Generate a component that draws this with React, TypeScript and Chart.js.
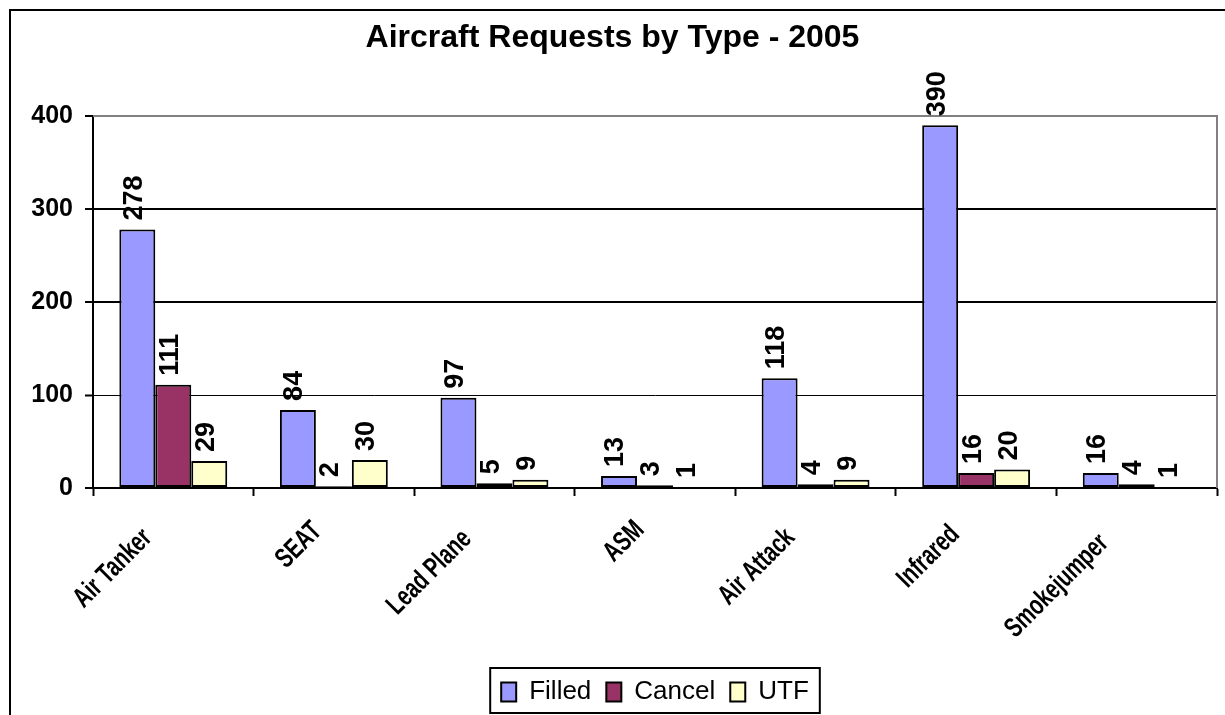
import React, { useEffect, useRef } from "react";
import { Chart, registerables } from "chart.js";

Chart.register(...registerables);

const categories = ["Air Tanker", "SEAT", "Lead Plane", "ASM", "Air Attack", "Infrared", "Smokejumper"];
const filled = [278, 84, 97, 13, 118, 390, 16];
const cancel = [111, 2, 5, 3, 4, 16, 4];
const utf = [29, 30, 9, 1, 9, 20, 1];
const seriesNames = ["Filled", "Cancel", "UTF"];
const yTicks = [0, 100, 200, 300, 400];
const titleText = "Aircraft Requests by Type - 2005";

const FONT = "'Liberation Sans', Arial, Helvetica, sans-serif";

const decorPlugin = {
  id: "decor",
  beforeDraw(chart: any) {
    const ctx = chart.ctx;
    ctx.save();
    ctx.fillStyle = "#ffffff";
    ctx.fillRect(0, 0, chart.width, chart.height);
    ctx.restore();
  },
  beforeDatasetsDraw(chart: any) {
    const ctx = chart.ctx;
    const a = chart.chartArea;
    ctx.save();
    ctx.strokeStyle = "#808080";
    ctx.lineWidth = 2;
    ctx.beginPath();
    ctx.moveTo(a.left, a.top);
    ctx.lineTo(a.right, a.top);
    ctx.lineTo(a.right, a.bottom);
    ctx.stroke();
    ctx.restore();
  },
  afterDatasetsDraw(chart: any) {
    const ctx = chart.ctx;
    ctx.save();
    ctx.fillStyle = "#000";
    ctx.font = `bold 27px ${FONT}`;
    ctx.textAlign = "left";
    ctx.textBaseline = "middle";
    chart.data.datasets.forEach((ds: any, di: number) => {
      const meta = chart.getDatasetMeta(di);
      meta.data.forEach((el: any, i: number) => {
        const v = ds.data[i];
        ctx.save();
        ctx.translate(el.x - 3, el.y - 9);
        ctx.rotate(-Math.PI / 2);
        ctx.fillText(String(v), 0, 0);
        ctx.restore();
      });
    });
    ctx.restore();
  },
  afterDraw(chart: any) {
    const ctx = chart.ctx;
    const xs = chart.scales.x;
    const a = chart.chartArea;
    ctx.save();
    // category labels
    ctx.fillStyle = "#000";
    ctx.font = `bold 28px ${FONT}`;
    ctx.textAlign = "right";
    ctx.textBaseline = "middle";
    const sx = 0.72;
    categories.forEach((lab, i) => {
      const cx = xs.getPixelForValue(i);
      const L = ctx.measureText(lab).width * sx;
      const ex = cx - 6 - 0.2 * L;
      const ey = a.bottom + 31 + 0.15 * L;
      ctx.save();
      ctx.translate(ex, ey);
      ctx.rotate(-Math.PI / 4);
      ctx.scale(sx, 1);
      ctx.fillText(lab, 0, 0);
      ctx.restore();
    });
    // legend frame
    const lg = chart.legend;
    if (lg && lg.legendHitBoxes && lg.legendHitBoxes.length) {
      const hb = lg.legendHitBoxes;
      const last = hb[hb.length - 1];
      const l = hb[0].left - 11;
      const r = last.left + last.width + 11;
      const t = lg.top + 4;
      const b = lg.bottom - 2;
      ctx.strokeStyle = "#000";
      ctx.lineWidth = 2;
      ctx.strokeRect(l, t, r - l, b - t);
    }
    // outer frame
    ctx.strokeStyle = "#000";
    ctx.lineWidth = 2;
    ctx.strokeRect(10, 10, 1400, 1000);
    ctx.restore();
  },
};

export default function App() {
  const ref = useRef<HTMLCanvasElement | null>(null);

  useEffect(() => {
    const canvas = ref.current;
    if (!canvas) return;
    const chart = new Chart(canvas, {
      type: "bar",
      data: {
        labels: categories,
        datasets: [
          { label: seriesNames[0], data: filled, backgroundColor: "#9999FF", borderColor: "#000", borderWidth: 2, borderSkipped: false },
          { label: seriesNames[1], data: cancel, backgroundColor: "#993366", borderColor: "#000", borderWidth: 2, borderSkipped: false },
          { label: seriesNames[2], data: utf, backgroundColor: "#FFFFCC", borderColor: "#000", borderWidth: 2, borderSkipped: false },
        ],
      },
      options: {
        animation: false,
        responsive: false,
        devicePixelRatio: 1,
        layout: { padding: { left: 8, right: 8, top: 0, bottom: 0 } },
        datasets: { bar: { barPercentage: 1, categoryPercentage: 0.672 } },
        plugins: {
          title: {
            display: true,
            text: titleText,
            color: "#000",
            font: { family: FONT, size: 32, weight: "bold" },
            padding: { top: 19, bottom: 58.6 },
          },
          legend: {
            display: true,
            position: "bottom",
            fullSize: false,
            labels: {
              color: "#000",
              font: { family: FONT, size: 26 },
              boxWidth: 15,
              boxHeight: 19,
              padding: 15,
            },
          },
          tooltip: { enabled: false },
        },
        scales: {
          x: {
            type: "category",
            offset: true,
            grid: {
              display: true,
              offset: true,
              drawOnChartArea: false,
              drawTicks: true,
              tickLength: 8,
              tickColor: "#000",
              tickWidth: 2,
            },
            border: { display: true, color: "#000", width: 2 },
            ticks: { display: false },
            afterFit: (scale: any) => {
              scale.height = 176;
            },
          },
          y: {
            min: 0,
            max: 400,
            afterBuildTicks: (scale: any) => {
              scale.ticks = yTicks.map((v) => ({ value: v }));
            },
            grid: {
              color: (c: any) => (c.tick && c.tick.value === 400 ? "#808080" : "#000"),
              lineWidth: (c: any) => (c.tick && c.tick.value === 100 ? 1 : 2),
              drawTicks: true,
              tickLength: 8,
              tickColor: "#000",
              tickWidth: 2,
            },
            border: { display: true, color: "#000", width: 2 },
            ticks: {
              color: "#000",
              padding: 12,
              font: { family: FONT, size: 25, weight: "bold" },
            },
            afterFit: (scale: any) => {
              scale.width = 85;
            },
          },
        },
      },
      plugins: [decorPlugin],
    } as any);
    return () => chart.destroy();
  }, []);

  return (
    <div style={{ position: "fixed", left: 0, top: 0, width: 1225, height: 715, background: "#fff" }}>
      <canvas ref={ref} width={1225} height={715} style={{ display: "block" }} />
    </div>
  );
}
